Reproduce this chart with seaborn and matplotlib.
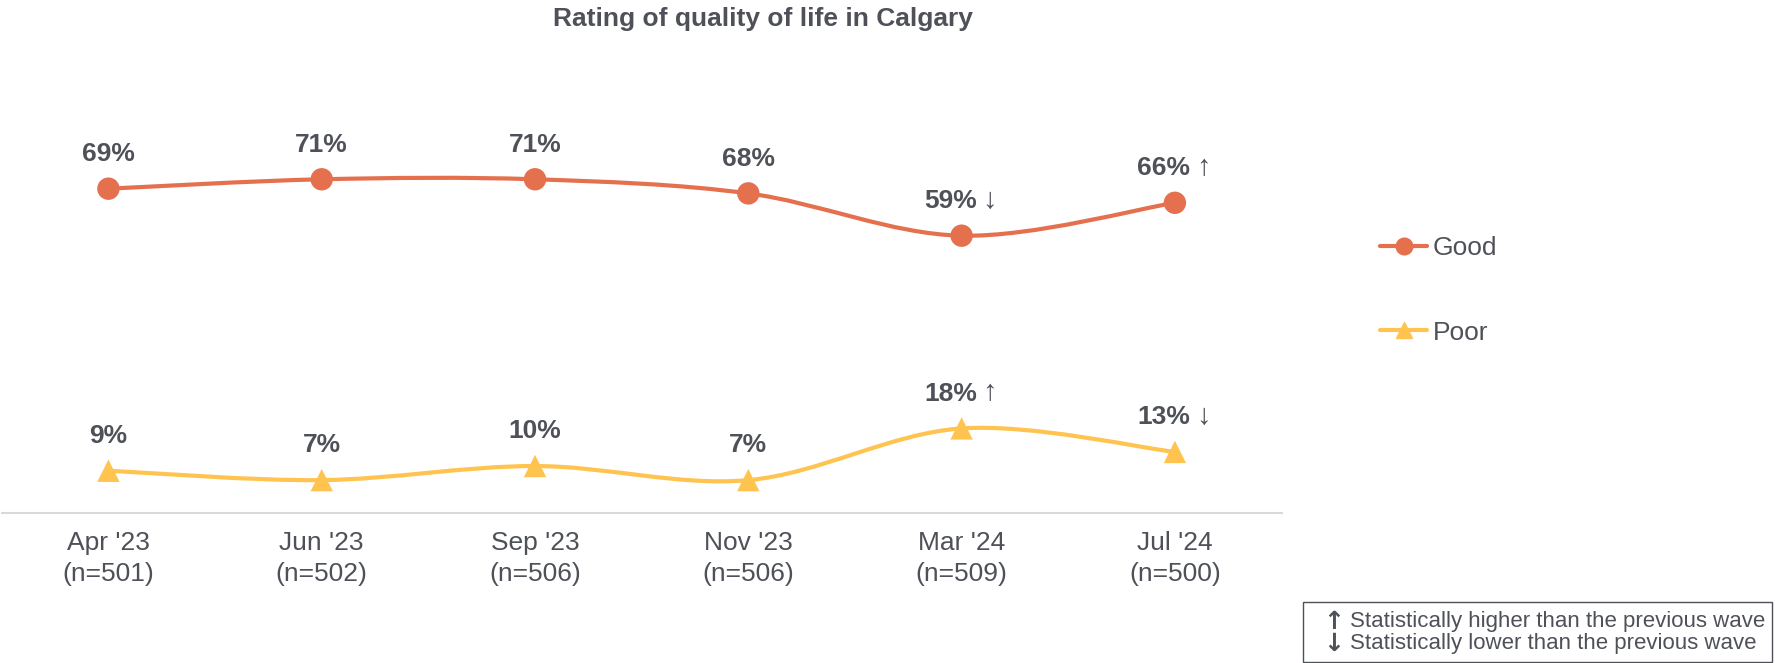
import pandas as pd
import numpy as np
import matplotlib.pyplot as plt
import seaborn as sns
from matplotlib.path import Path
from matplotlib.patches import PathPatch, Rectangle
from matplotlib.lines import Line2D

# Data
waves = ["Apr '23", "Jun '23", "Sep '23", "Nov '23", "Mar '24", "Jul '24"]
sample_sizes = [501, 502, 506, 506, 509, 500]
good = [69, 71, 71, 68, 59, 66]
poor = [9, 7, 10, 7, 18, 13]
good_sig = ["", "", "", "", "↓", "↑"]
poor_sig = ["", "", "", "", "↑", "↓"]

good_color = '#E5704E'
poor_color = '#FFC44F'
text_color = '#4E5158'

df = pd.DataFrame({
    'wave': waves * 2,
    'value': good + poor,
    'series': ['Good'] * 6 + ['Poor'] * 6,
})

sns.set_style('white')
plt.rcParams['font.family'] = ['Liberation Sans', 'DejaVu Sans']

fig = plt.figure(figsize=(17.75, 6.63), dpi=100)
ax = fig.add_axes([0.001, 0.2262, 0.721, 0.709])


# Yumusak cizgi (Excel tarzi smooth line)
def smooth_path(ys):
    xs = np.arange(len(ys), dtype=float)
    ys = np.asarray(ys, dtype=float)
    verts = [(xs[0], ys[0])]
    codes = [Path.MOVETO]
    for i in range(len(xs) - 1):
        p0 = (xs[max(i - 1, 0)], ys[max(i - 1, 0)])
        p1 = (xs[i], ys[i])
        p2 = (xs[i + 1], ys[i + 1])
        p3 = (xs[min(i + 2, len(xs) - 1)], ys[min(i + 2, len(xs) - 1)])
        c1 = (p1[0] + (p2[0] - p0[0]) / 6, p1[1] + (p2[1] - p0[1]) / 6)
        c2 = (p2[0] - (p3[0] - p1[0]) / 6, p2[1] - (p3[1] - p1[1]) / 6)
        verts += [c1, c2, p2]
        codes += [Path.CURVE4] * 3
    return Path(verts, codes)


ax.add_patch(PathPatch(smooth_path(good), fill=False, edgecolor=good_color,
                       linewidth=3, capstyle='round', zorder=2))
ax.add_patch(PathPatch(smooth_path(poor), fill=False, edgecolor=poor_color,
                       linewidth=3, capstyle='round', zorder=2))

sns.scatterplot(data=df, x='wave', y='value', hue='series', style='series',
                markers={'Good': 'o', 'Poor': '^'},
                palette={'Good': good_color, 'Poor': poor_color},
                s=260, linewidth=0, ax=ax, legend=False, zorder=3)

# Veri etiketleri
for vals, sigs in [(good, good_sig), (poor, poor_sig)]:
    for i, (v, s) in enumerate(zip(vals, sigs)):
        if s:
            ax.annotate(f'{v}%', (i, v), xytext=(-8, 25), textcoords='offset points',
                        ha='center', va='center', fontsize=19, fontweight='bold',
                        color=text_color)
            ax.annotate(s, (i, v), xytext=(15, 26), textcoords='offset points',
                        ha='left', va='center', fontsize=21, color=text_color)
        else:
            ax.annotate(f'{v}%', (i, v), xytext=(0, 25), textcoords='offset points',
                        ha='center', va='center', fontsize=19, fontweight='bold',
                        color=text_color)

ax.set_xlim(-0.5, 5.5)
ax.set_ylim(0, 100)
ax.set_xticks(range(len(waves)))
ax.set_xticklabels([f'{w}\n(n={n})' for w, n in zip(waves, sample_sizes)],
                   fontsize=19, color=text_color, linespacing=1.35)
ax.tick_params(axis='x', length=0, pad=13)
ax.set_yticks([])
ax.set_xlabel('')
ax.set_ylabel('')
for sp in ['top', 'right', 'left']:
    ax.spines[sp].set_visible(False)
ax.spines['bottom'].set_color('#D9D9D9')
ax.spines['bottom'].set_linewidth(1.5)

# Legend
handles = [
    Line2D([], [], color=good_color, linewidth=3, marker='o', markersize=12),
    Line2D([], [], color=poor_color, linewidth=3, marker='^', markersize=12),
]
fig.legend(handles, ['Good', 'Poor'], loc='upper left', bbox_to_anchor=(0.764, 0.68),
           frameon=False, fontsize=19, labelcolor=text_color, handlelength=1.8,
           handletextpad=0.2, labelspacing=2.3)

# Title
fig.text(0.43, 0.972, 'Rating of quality of life in Calgary', ha='center', va='center',
         fontsize=19, fontweight='bold', color=text_color)

# Footnote box
fig.patches.append(Rectangle((1303 / 1775, 1 / 663), 469 / 1775, 60 / 663,
                             transform=fig.transFigure, fill=False,
                             edgecolor='#4E5158', linewidth=1))
fig.text(1323 / 1775, 1 - 622 / 663, '↑', fontsize=18, fontweight='bold',
         family='DejaVu Sans', color=text_color, va='center', ha='left')
fig.text(1323 / 1775, 1 - 644 / 663, '↓', fontsize=18, fontweight='bold',
         family='DejaVu Sans', color=text_color, va='center', ha='left')
fig.text(1350 / 1775, 1 - 622 / 663, 'Statistically higher than the previous wave',
         fontsize=16, color=text_color, va='center', ha='left')
fig.text(1350 / 1775, 1 - 644 / 663, 'Statistically lower than the previous wave',
         fontsize=16, color=text_color, va='center', ha='left')

plt.savefig('out.png', dpi=100)
